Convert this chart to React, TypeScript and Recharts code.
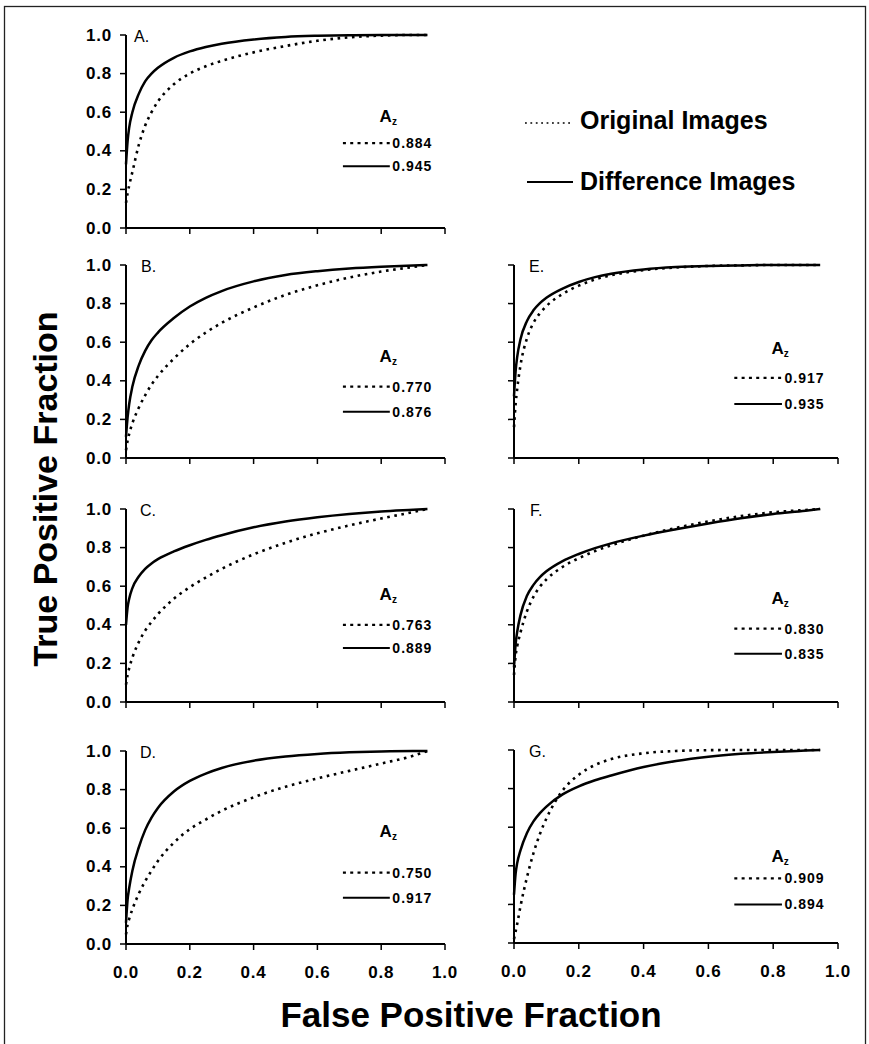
import React from 'react';
import { LineChart, Line, XAxis, YAxis } from 'recharts';

// ---------- data ----------
const FPF = [0, 0.005, 0.01, 0.02, 0.04, 0.06, 0.08, 0.1, 0.15, 0.2, 0.25, 0.3, 0.4, 0.5, 0.6, 0.7, 0.8, 0.9, 0.945];

const ORIG_A = [0.13, 0.18, 0.22, 0.29, 0.43, 0.53, 0.6, 0.655, 0.745, 0.8, 0.838, 0.866, 0.91, 0.943, 0.97, 0.988, 0.997, 1.0, 1.0];
const DIFF_A = [0.33, 0.45, 0.52, 0.6, 0.695, 0.76, 0.8, 0.83, 0.882, 0.915, 0.938, 0.955, 0.977, 0.99, 0.996, 0.999, 1.0, 1.0, 1.0];

const ORIG_B = [0.04, 0.09, 0.125, 0.18, 0.26, 0.325, 0.38, 0.425, 0.515, 0.59, 0.65, 0.7, 0.78, 0.845, 0.895, 0.935, 0.966, 0.99, 1.0];
const DIFF_B = [0.11, 0.21, 0.28, 0.37, 0.48, 0.555, 0.61, 0.65, 0.725, 0.785, 0.83, 0.865, 0.915, 0.948, 0.968, 0.982, 0.991, 0.997, 1.0];

const ORIG_C = [0.09, 0.14, 0.175, 0.23, 0.31, 0.37, 0.415, 0.455, 0.535, 0.595, 0.645, 0.69, 0.765, 0.825, 0.874, 0.915, 0.951, 0.984, 1.0];
const DIFF_C = [0.4, 0.49, 0.535, 0.59, 0.65, 0.69, 0.718, 0.74, 0.78, 0.812, 0.84, 0.864, 0.905, 0.935, 0.957, 0.974, 0.987, 0.996, 1.0];

const ORIG_D = [0.05, 0.1, 0.13, 0.18, 0.26, 0.325, 0.38, 0.43, 0.525, 0.595, 0.645, 0.69, 0.76, 0.815, 0.858, 0.897, 0.935, 0.975, 1.0];
const DIFF_D = [0.11, 0.23, 0.29, 0.38, 0.5, 0.59, 0.655, 0.705, 0.79, 0.845, 0.883, 0.912, 0.95, 0.972, 0.985, 0.993, 0.998, 1.0, 1.0];

const ORIG_E = [0.16, 0.28, 0.36, 0.48, 0.62, 0.7, 0.75, 0.787, 0.85, 0.893, 0.925, 0.947, 0.973, 0.987, 0.995, 0.998, 1.0, 1.0, 1.0];
const DIFF_E = [0.32, 0.45, 0.525, 0.615, 0.71, 0.765, 0.802, 0.83, 0.878, 0.912, 0.937, 0.955, 0.977, 0.989, 0.995, 0.998, 1.0, 1.0, 1.0];

const ORIG_F = [0.14, 0.24, 0.29, 0.36, 0.47, 0.545, 0.597, 0.635, 0.7, 0.745, 0.782, 0.812, 0.862, 0.902, 0.936, 0.963, 0.983, 0.995, 1.0];
const DIFF_F = [0.18, 0.3, 0.365, 0.45, 0.55, 0.607, 0.647, 0.677, 0.73, 0.767, 0.797, 0.822, 0.862, 0.895, 0.925, 0.952, 0.974, 0.991, 1.0];

const ORIG_G = [0.02, 0.06, 0.1, 0.19, 0.34, 0.465, 0.565, 0.645, 0.79, 0.872, 0.922, 0.953, 0.983, 0.995, 0.999, 1.0, 1.0, 1.0, 1.0];
const DIFF_G = [0.25, 0.36, 0.415, 0.48, 0.57, 0.63, 0.673, 0.707, 0.77, 0.812, 0.843, 0.868, 0.912, 0.943, 0.965, 0.98, 0.99, 0.997, 1.0];

const PANEL_LABELS = ['A.', 'B.', 'C.', 'D.', 'E.', 'F.', 'G.'];
const AZ_ORIG = ['0.884', '0.770', '0.763', '0.750', '0.917', '0.830', '0.909'];
const AZ_DIFF = ['0.945', '0.876', '0.889', '0.917', '0.935', '0.835', '0.894'];
const AXIS_TICKS = [0, 0.2, 0.4, 0.6, 0.8, 1.0];
const LEGEND_NAMES = ['Original Images', 'Difference Images'];
const X_TITLE = 'False Positive Fraction';
const Y_TITLE = 'True Positive Fraction';

const SERIES = [
  [ORIG_A, DIFF_A], [ORIG_B, DIFF_B], [ORIG_C, DIFF_C], [ORIG_D, DIFF_D],
  [ORIG_E, DIFF_E], [ORIG_F, DIFF_F], [ORIG_G, DIFF_G],
];

// ---------- layout ----------
const PH = 193;
const ML = 60, MT = 10, MR = 20, XH = 40;
const LAYOUT = [
  { x0: 126, pw: 319, top: 35, yLabels: true, xLabels: false, az: [0.45, 0.56, 0.68], ldx: 8 },
  { x0: 126, pw: 319, top: 265, yLabels: true, xLabels: false, az: [0.5, 0.63, 0.76], ldx: 15 },
  { x0: 126, pw: 319, top: 509, yLabels: true, xLabels: false, az: [0.47, 0.6, 0.72], ldx: 14 },
  { x0: 126, pw: 319, top: 751, yLabels: true, xLabels: true, az: [0.445, 0.63, 0.76], ldx: 14 },
  { x0: 514, pw: 324, top: 265, yLabels: false, xLabels: false, az: [0.46, 0.585, 0.72], ldx: 15 },
  { x0: 514, pw: 324, top: 509, yLabels: false, xLabels: false, az: [0.49, 0.62, 0.75], ldx: 16 },
  { x0: 514, pw: 324, top: 750, yLabels: false, xLabels: true, az: [0.58, 0.665, 0.8], ldx: 15 },
];

const FONT = '"Liberation Sans", Arial, Helvetica, sans-serif';

const YTick = (props: any) => {
  const { x, y, payload } = props;
  return (
    <text x={x - 6} y={y} textAnchor="end" dominantBaseline="central"
      fontFamily={FONT} fontWeight="bold" fontSize={17} letterSpacing={0.8} fill="#000">
      {payload.value.toFixed(1)}
    </text>
  );
};
const XTick = (props: any) => {
  const { x, y, payload } = props;
  return (
    <text x={x} y={y + 26} textAnchor="middle"
      fontFamily={FONT} fontWeight="bold" fontSize={17} letterSpacing={0.8} fill="#000">
      {payload.value.toFixed(1)}
    </text>
  );
};
const NoTick = () => <g />;

function Panel({ idx }: { idx: number }) {
  const L = LAYOUT[idx];
  const [orig, diff] = SERIES[idx];
  const rows = FPF.map((f, i) => ({ fpf: f, orig: orig[i], diff: diff[i] }));
  const W = L.pw + ML + MR;
  const H = PH + MT + XH;
  return (
    <div style={{ position: 'absolute', left: L.x0 - ML, top: L.top - MT, width: W, height: H }}>
      <LineChart width={W} height={H} data={rows} margin={{ top: MT, right: MR, left: 0, bottom: 0 }}>
        <XAxis dataKey="fpf" type="number" domain={[0, 1]} ticks={AXIS_TICKS} height={XH}
          axisLine={{ stroke: '#000', strokeWidth: 2 }} tickLine={{ stroke: '#000', strokeWidth: 1.5 }} tickSize={6}
          tick={L.xLabels ? XTick : NoTick} interval={0} />
        <YAxis type="number" domain={[0, 1]} ticks={AXIS_TICKS} width={ML}
          axisLine={{ stroke: '#000', strokeWidth: 2 }} tickLine={{ stroke: '#000', strokeWidth: 1.5 }} tickSize={6}
          tick={L.yLabels ? YTick : NoTick} interval={0} />
        <Line type="monotone" dataKey="orig" stroke="#000" strokeWidth={2.6} strokeDasharray="2.6 4.6"
          dot={false} isAnimationActive={false} />
        <Line type="monotone" dataKey="diff" stroke="#000" strokeWidth={2.5}
          dot={false} isAnimationActive={false} />
      </LineChart>
    </div>
  );
}

function Overlay() {
  return (
    <svg width={869} height={1044} style={{ position: 'absolute', left: 0, top: 0, pointerEvents: 'none' }}>
      <rect x={4.5} y={6.5} width={861} height={1050} fill="none" stroke="#222" strokeWidth={1.3} />
      {LAYOUT.map((L, i) => {
        const ax = L.x0 + 0.795 * L.pw;
        const l0 = L.x0 + 0.68 * L.pw;
        const l1 = L.x0 + 0.827 * L.pw;
        const vx = L.x0 + 0.835 * L.pw;
        const yAz = L.top + L.az[0] * PH;
        const y1 = L.top + L.az[1] * PH;
        const y2 = L.top + L.az[2] * PH;
        return (
          <g key={i} fontFamily={FONT} fill="#000">
            <text x={L.x0 + L.ldx} y={L.top + 7} fontSize={16}>{PANEL_LABELS[i]}</text>
            <text x={ax} y={yAz} fontSize={17} fontWeight="bold">A<tspan fontSize={10} dy={3}>z</tspan></text>
            <line x1={l0} x2={l1} y1={y1} y2={y1} stroke="#000" strokeWidth={2.2} strokeDasharray="3 4.3" />
            <line x1={l0} x2={l1} y1={y2} y2={y2} stroke="#000" strokeWidth={2} />
            <text x={vx} y={y1} dominantBaseline="central" fontSize={14} fontWeight="bold" letterSpacing={1}>{AZ_ORIG[i]}</text>
            <text x={vx} y={y2} dominantBaseline="central" fontSize={14} fontWeight="bold" letterSpacing={1}>{AZ_DIFF[i]}</text>
          </g>
        );
      })}
      <g fontFamily={FONT} fontWeight="bold" fill="#000">
        <line x1={525} x2={573} y1={123} y2={123} stroke="#000" strokeWidth={1.6} strokeDasharray="1.8 3.6" />
        <text x={580} y={129} fontSize={25}>{LEGEND_NAMES[0]}</text>
        <line x1={527} x2={573} y1={182} y2={182} stroke="#000" strokeWidth={2} />
        <text x={580} y={190} fontSize={25}>{LEGEND_NAMES[1]}</text>
        <text x={471} y={1027} fontSize={35} textAnchor="middle">{X_TITLE}</text>
        <text transform="translate(57,489) rotate(-90)" fontSize={34} textAnchor="middle">{Y_TITLE}</text>
      </g>
    </svg>
  );
}

export default function App() {
  return (
    <div style={{ position: 'absolute', left: 0, top: 0, width: 869, height: 1044, background: '#fff', overflow: 'hidden' }}>
      {LAYOUT.map((_, i) => <Panel key={i} idx={i} />)}
      <Overlay />
    </div>
  );
}
